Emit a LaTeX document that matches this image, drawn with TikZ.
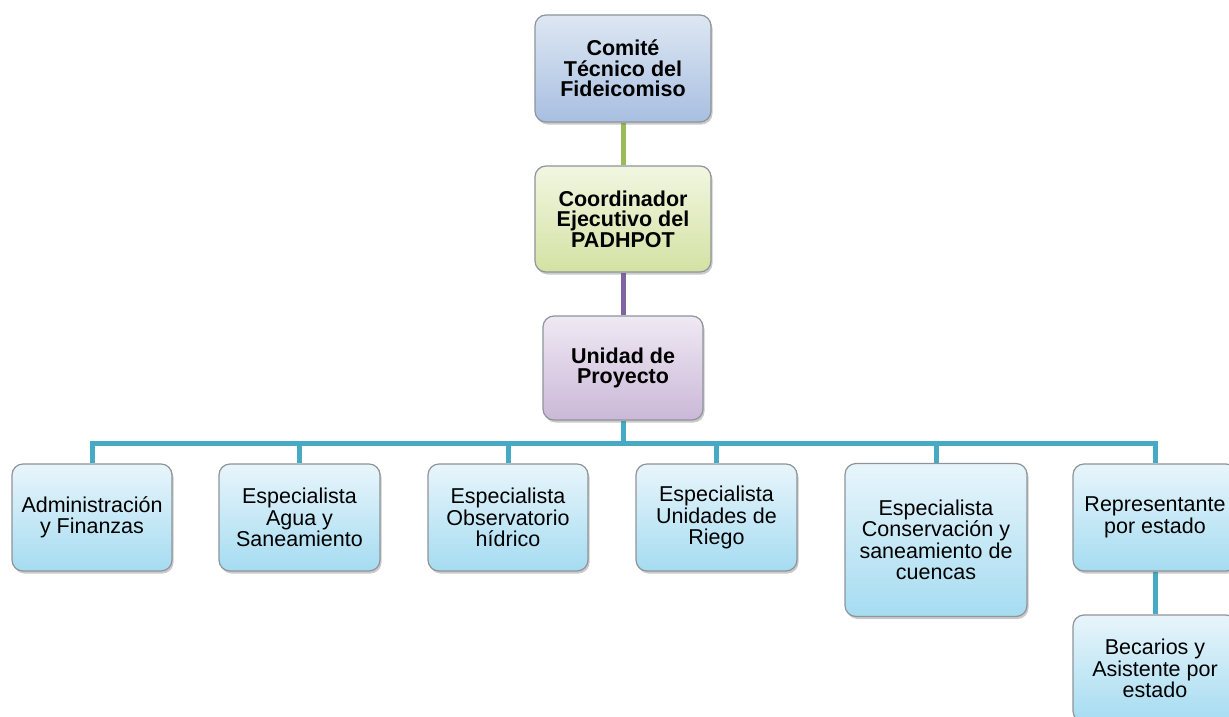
\documentclass[tikz,border=0pt]{standalone}
\usepackage{fontspec}
\setmainfont{Liberation Sans}
\usetikzlibrary{shadows,backgrounds}
\definecolor{boxborder}{HTML}{8E9499}
\definecolor{teal}{HTML}{46AAC5}
\definecolor{lgreen}{HTML}{9BBB59}
\definecolor{lpurple}{HTML}{8064A2}
\definecolor{btop}{HTML}{E8F5FB}
\definecolor{bbot}{HTML}{A5DCF1}
\definecolor{ctop}{HTML}{DDE7F3}
\definecolor{cbot}{HTML}{A8BFE1}
\definecolor{gtop}{HTML}{F2F6E1}
\definecolor{gbot}{HTML}{D3E2A3}
\definecolor{ptop}{HTML}{EFE9F3}
\definecolor{pbot}{HTML}{CBB8D8}
\begin{document}
\begin{tikzpicture}[x=1pt,y=-1pt,
  box/.style={draw=boxborder, line width=1.2pt, rounded corners=11pt,
    inner sep=0pt, align=center, minimum height=107pt,
    font=\fontsize{21.5}{21.5}\selectfont,
    shading=axis, shading angle=0, top color=btop, bottom color=bbot,
    drop shadow={shadow xshift=1.5pt, shadow yshift=-2.5pt, opacity=0.35, fill=black!60}},
  topbox/.style={box, font=\fontsize{21.5}{20.5}\selectfont\bfseries},
  conn/.style={line width=5pt}]
\clip (0,0) rectangle (1229,717);
\useasboundingbox (0,0) rectangle (1229,717);

\node[topbox, minimum width=176pt, top color=ctop, bottom color=cbot] (ct) at (623,68.5) {Comité\\Técnico del\\Fideicomiso};
\node[topbox, minimum width=176pt, minimum height=106pt, top color=gtop, bottom color=gbot] (co) at (623,219) {Coordinador\\Ejecutivo del\\PADHPOT};
\node[topbox, minimum width=160pt, minimum height=104pt, top color=ptop, bottom color=pbot] (un) at (623,368) {Unidad de\\Proyecto};

\node[box, minimum width=160pt] (adm) at (92,517.5) {Administración\\y Finanzas};
\node[box, minimum width=161pt] (agua) at (299.5,517.5) {Especialista\\Agua y\\Saneamiento};
\node[box, minimum width=160pt] (obs) at (508,517.5) {Especialista\\Observatorio\\hídrico};
\node[box, minimum width=161pt] (rieg) at (716.5,517.5) {Especialista\\Unidades de\\Riego};
\node[box, minimum width=182pt, minimum height=153pt] (cons) at (936,540) {Especialista\\Conservación y\\saneamiento de\\cuencas};
\node[box, minimum width=164pt] (rep) at (1155,517.5) {Representante\\por estado};
\node[box, minimum width=164pt] (bec) at (1155,668.5) {Becarios y\\Asistente por\\estado};

\coordinate (bus) at (623,443);
\begin{scope}[on background layer]
\draw[conn, lgreen] (ct.south) -- (co.north);
\draw[conn, lpurple] (co.south) -- (un.north);
\foreach \c in {adm,agua,obs,rieg,cons,rep}
  \draw[conn, teal] (un.south) -- (un.south |- bus) -| (\c.north);
\draw[conn, teal] (rep.south) -- (bec.north);
\end{scope}
\end{tikzpicture}
\end{document}
